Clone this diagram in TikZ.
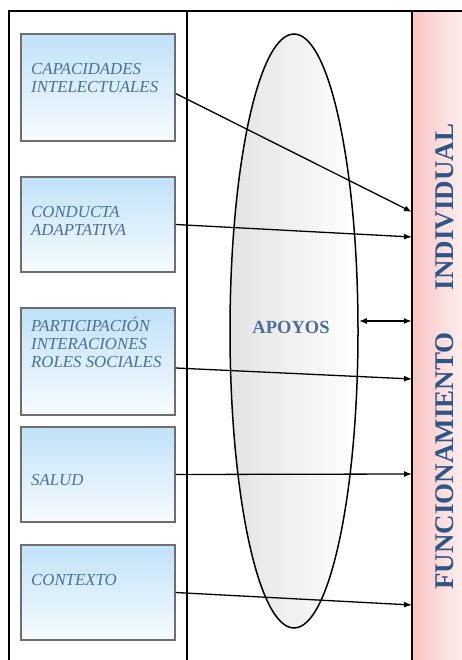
\documentclass[tikz,border=0pt]{standalone}
\usepackage{fontspec}
\setmainfont{Liberation Serif}[BoldFont={Liberation Serif Bold},ItalicFont={Liberation Serif Italic}]
\usetikzlibrary{shapes.geometric,arrows.meta}
\definecolor{azul}{RGB}{44,86,134}
\definecolor{azulc}{RGB}{192,226,248}
\definecolor{rosa}{RGB}{250,196,196}
\definecolor{rosac}{RGB}{254,238,238}
\definecolor{gris}{RGB}{110,110,110}
\begin{document}
\begin{tikzpicture}[x=1pt,y=-1pt,>={Latex[length=8pt,width=6pt]},
		caja/.style={draw=gris,line width=1.4pt,top color=azulc,bottom color=azulc!12,minimum width=154pt,minimum height=95pt,inner sep=0pt},
		texto/.style={anchor=base west,align=left,inner sep=0pt,text=azul!85,font=\fontsize{16.8}{18}\selectfont\itshape},
		titulo/.style={rotate=90,inner sep=0pt,text=azul,font=\fontsize{27}{27}\selectfont\bfseries}]
	\useasboundingbox (0,0) rectangle (462,660);
	\node[inner sep=0pt,minimum width=50pt,minimum height=649pt,left color=rosa,right color=rosac] (func) at (437,335.5) {};
	\draw[line width=1.5pt] (func.north west)--(func.south west);
	\draw[line width=2pt] (9,670)--(9,11)--(462,11) (187,11)--(187,670);
	\node[caja,minimum height=107pt] (cap) at (98,87.5) {};
	\node[caja] (con) at (98,224.5) {};
	\node[caja,minimum height=107pt] (par) at (98,361.5) {};
	\node[caja] (sal) at (98,474.5) {};
	\node[caja] (ctx) at (98,592.5) {};
	\node[texto] (tcap) at (31,93) {CAPACIDADES\\INTELECTUALES};
	\node[texto] (tcon) at (31,235) {CONDUCTA\\ADAPTATIVA};
	\node[texto] (tpar) at (31,367) {PARTICIPACIÓN\\INTERACIONES\\ROLES SOCIALES};
	\node[texto] (tsal) at (31,485) {SALUD};
	\node[texto] (tctx) at (31,585) {CONTEXTO};
	\node[draw,ellipse,line width=1.5pt,inner sep=0pt,left color=gray!22,right color=white,minimum width=128pt,minimum height=594pt] (apoyo) at (294,331) {};
	\node[anchor=base,text=azul!85,font=\fontsize{18.5}{20}\selectfont\bfseries] (tapo) at (291,333) {APOYOS};
	\node[titulo] (ind) at (445,207) {INDIVIDUAL};
	\node[titulo] (fun) at (445,461) {FUNCIONAMIENTO};
	\coordinate (f1) at (412,212);
	\coordinate (f2) at (412,237);
	\coordinate (f3) at (412,379);
	\coordinate (f4) at (412,474);
	\coordinate (f5) at (412,605);
	\begin{scope}[->,line width=1.3pt]
		\draw ([yshift=-6pt]cap.east)--(f1);
		\draw (con.east)--(f2);
		\draw ([yshift=-6.5pt]par.east)--(f3);
		\draw (sal.east)--(f4);
		\draw (ctx.east)--(f5);
	\end{scope}
	\draw[<->,line width=2.2pt] ([yshift=10pt]apoyo.east)--([yshift=10pt]apoyo.east-|func.west);
\end{tikzpicture}
\end{document}
